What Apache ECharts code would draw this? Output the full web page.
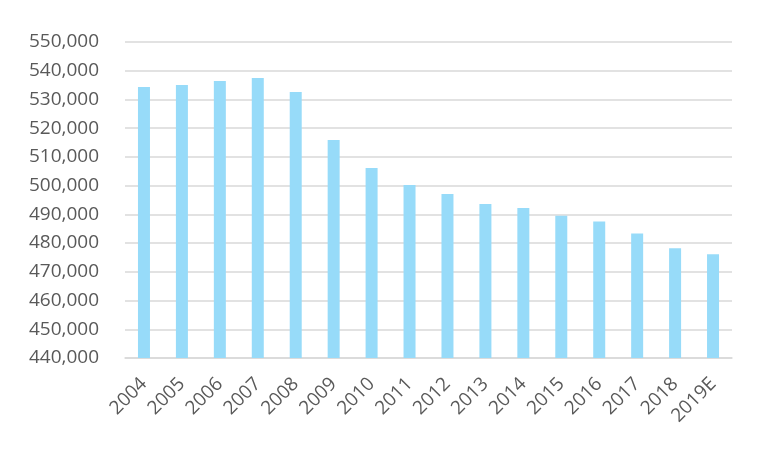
<!DOCTYPE html>
<html>
<head>
<meta charset="utf-8">
<script src="https://cdn.jsdelivr.net/npm/echarts@6/dist/echarts.min.js"></script>
<style>html,body{margin:0;padding:0;background:#fff;}#chart{width:761px;height:452px;}</style>
</head>
<body>
<div id="chart"></div>
<script>
const categories = ['2004','2005','2006','2007','2008','2009','2010','2011','2012','2013','2014','2015','2016','2017','2018','2019E'];
const values = [534300, 535000, 536400, 537500, 532600, 515900, 506100, 500200, 497100, 493600, 492200, 489500, 487500, 483300, 478200, 476100];
const yMin = 440000, yMax = 550000, yStep = 10000;

const chart = echarts.init(document.getElementById('chart'), null, {renderer: 'canvas'});
chart.setOption({
  animation: false,
  backgroundColor: '#ffffff',
  grid: {left: 125, right: 29, top: 42, bottom: 94, containLabel: false},
  xAxis: {
    type: 'category',
    data: categories,
    axisLine: {show: true, lineStyle: {color: '#d9d9d9', width: 1.5}},
    axisTick: {show: false},
    axisLabel: {rotate: 45, color: '#595959', fontFamily: 'Open Sans', fontSize: 19, margin: 23, interval: 0}
  },
  yAxis: {
    type: 'value',
    min: yMin, max: yMax, interval: yStep,
    axisLine: {show: false},
    axisTick: {show: false},
    splitLine: {lineStyle: {color: '#d9d9d9', width: 1.5}},
    axisLabel: {
      color: '#595959', fontFamily: 'Open Sans', fontSize: 19, margin: 26,
      formatter: v => v.toLocaleString('en-US')
    }
  },
  series: [{
    type: 'bar',
    data: values,
    barWidth: 12,
    itemStyle: {color: '#97dbf9'}
  }]
});
</script>
</body>
</html>
